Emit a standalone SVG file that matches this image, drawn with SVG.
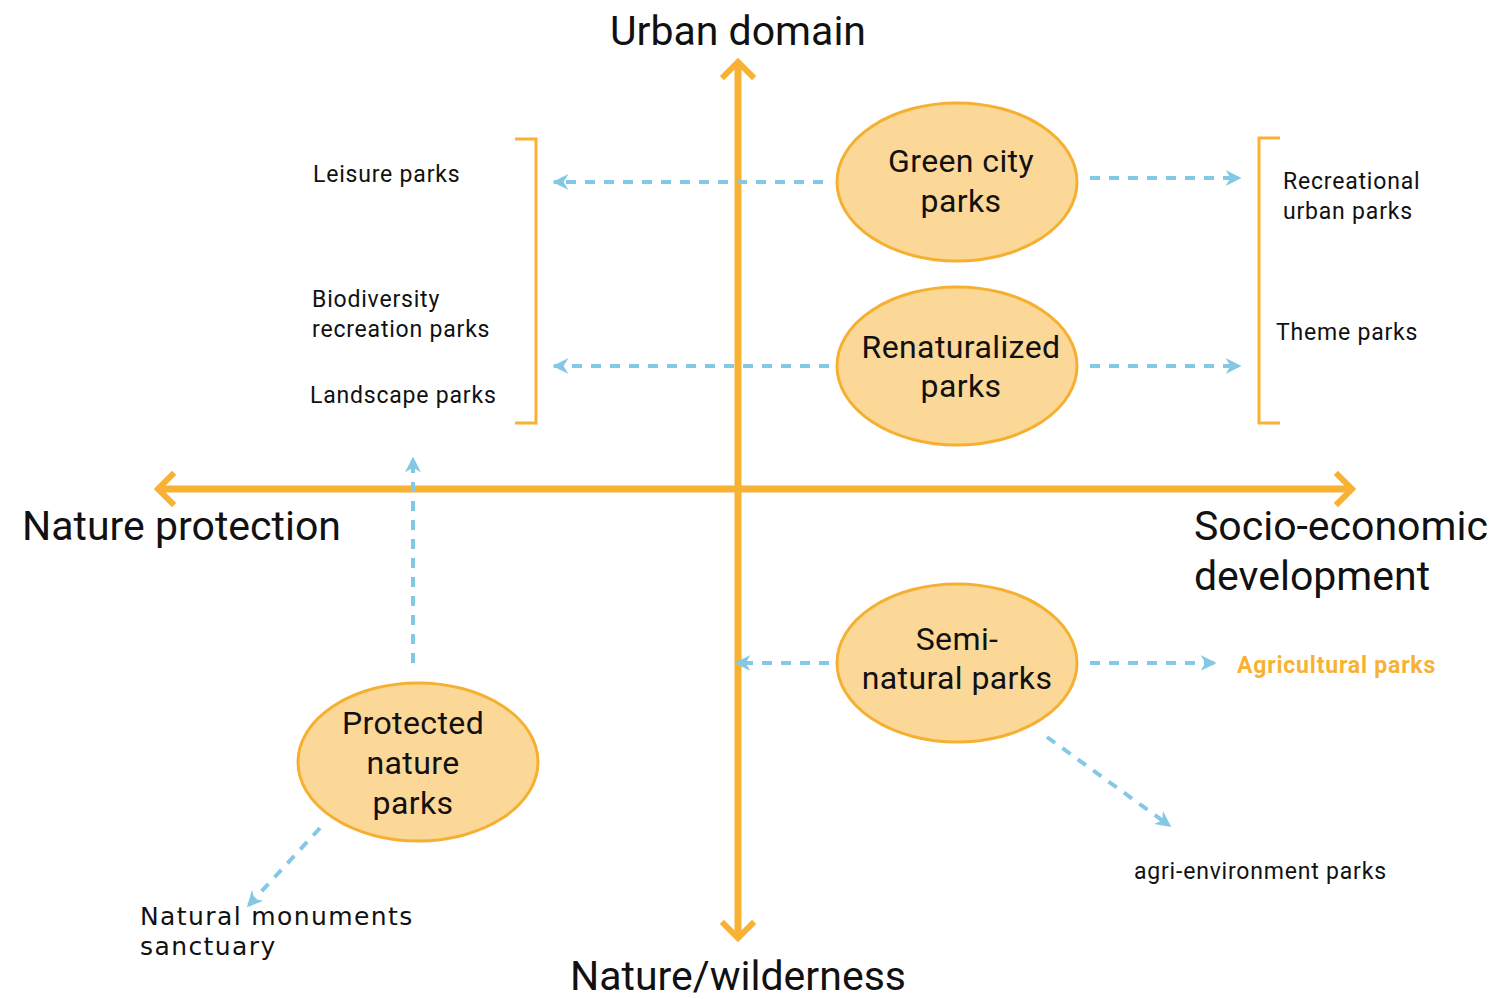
<svg xmlns="http://www.w3.org/2000/svg" width="1497" height="999" viewBox="0 0 1497 999">
  <style>
    .axis { stroke: #F7B234; stroke-width: 7; fill: none; stroke-linecap: butt; }
    .head { stroke: #F7B234; stroke-width: 6; fill: none; stroke-linecap: square; stroke-linejoin: miter; }
    .bracket { stroke: #F7B234; stroke-width: 3; fill: none; }
    .link { stroke: #85C8E6; stroke-width: 4; fill: none; stroke-dasharray: 10 9; }
    .node ellipse { fill: #FCD898; stroke: #F5B031; stroke-width: 3; }
    .node text { font-family: Roboto, "Noto Sans", sans-serif; font-size: 32px; letter-spacing: 0.4px; fill: #111; text-anchor: middle; }
    .axlabel { font-family: Roboto, "Noto Sans", sans-serif; font-size: 41px; fill: #111; }
    .lbl { font-family: Roboto, "Noto Sans", sans-serif; font-size: 23px; letter-spacing: 0.8px; fill: #111; }
    .lbl2 { font-family: "DejaVu Sans", sans-serif; font-size: 25px; letter-spacing: 1.4px; fill: #111; }
    .accent { font-family: Roboto, "Noto Sans", sans-serif; font-size: 23px; letter-spacing: 0.8px; font-weight: bold; fill: #F7B234; }
  </style>
  <defs>
    <marker id="chev" viewBox="0 0 10 10" refX="9" refY="5" markerWidth="4" markerHeight="4" orient="auto" markerUnits="strokeWidth">
      <path d="M0,0 L10,5 L0,10 L3,5 Z" fill="#85C8E6"/>
    </marker>
  </defs>

  <g id="axes">
    <line class="axis" x1="738" y1="64" x2="738" y2="936"/>
    <polyline class="head" points="724,76 738,62 752,76"/>
    <polyline class="head" points="724,924 738,938 752,924"/>
    <line class="axis" x1="160" y1="489" x2="1350" y2="489"/>
    <polyline class="head" points="172,475 158,489 172,503"/>
    <polyline class="head" points="1338,475 1352,489 1338,503"/>
  </g>

  <g id="brackets">
    <polyline class="bracket" points="515,139 536,139 536,423 515,423"/>
    <polyline class="bracket" points="1280,138 1259,138 1259,423 1280,423"/>
  </g>

  <g id="connectors">
    <line class="link" x1="823" y1="182" x2="554" y2="182" marker-end="url(#chev)"/>
    <line class="link" x1="1090" y1="178" x2="1240" y2="178" marker-end="url(#chev)"/>
    <line class="link" x1="829" y1="366" x2="554" y2="366" marker-end="url(#chev)"/>
    <line class="link" x1="1090" y1="366" x2="1240" y2="366" marker-end="url(#chev)"/>
    <line class="link" x1="413" y1="663" x2="413" y2="458" marker-end="url(#chev)"/>
    <line class="link" x1="829" y1="663" x2="736" y2="663" marker-end="url(#chev)"/>
    <line class="link" x1="1090" y1="663" x2="1215" y2="663" marker-end="url(#chev)"/>
    <line class="link" x1="1047" y1="737" x2="1170" y2="826" marker-end="url(#chev)"/>
    <line class="link" x1="320" y1="828" x2="248" y2="906" marker-end="url(#chev)"/>
  </g>

  <g id="green-city-parks" class="node">
    <ellipse cx="957" cy="182" rx="120" ry="79"/>
    <text x="961" y="172">Green city</text>
    <text x="961" y="212">parks</text>
  </g>
  <g id="renaturalized-parks" class="node">
    <ellipse cx="957" cy="366" rx="120" ry="79"/>
    <text x="961" y="358">Renaturalized</text>
    <text x="961" y="397">parks</text>
  </g>
  <g id="semi-natural-parks" class="node">
    <ellipse cx="957" cy="663" rx="120" ry="79"/>
    <text x="957" y="650">Semi-</text>
    <text x="957" y="689">natural parks</text>
  </g>
  <g id="protected-nature-parks" class="node">
    <ellipse cx="418" cy="762" rx="120" ry="79"/>
    <text x="413" y="734">Protected</text>
    <text x="413" y="774">nature</text>
    <text x="413" y="814">parks</text>
  </g>

  <g id="axis-labels">
    <text class="axlabel" x="738" y="45" text-anchor="middle">Urban domain</text>
    <text class="axlabel" x="22" y="540">Nature protection</text>
    <text class="axlabel" x="1194" y="540">Socio-economic</text>
    <text class="axlabel" x="1194" y="590">development</text>
    <text class="axlabel" x="738" y="990" text-anchor="middle">Nature/wilderness</text>
  </g>

  <g id="leisure-parks"><text class="lbl" x="313" y="182">Leisure parks</text></g>
  <g id="biodiversity-parks">
    <text class="lbl" x="312" y="307">Biodiversity</text>
    <text class="lbl" x="312" y="337">recreation parks</text>
  </g>
  <g id="landscape-parks"><text class="lbl" x="310" y="403">Landscape parks</text></g>
  <g id="recreational-parks">
    <text class="lbl" x="1283" y="189">Recreational</text>
    <text class="lbl" x="1283" y="219">urban parks</text>
  </g>
  <g id="theme-parks"><text class="lbl" x="1276" y="340">Theme parks</text></g>
  <g id="agricultural-parks"><text class="accent" x="1237" y="673">Agricultural parks</text></g>
  <g id="agri-environment-parks"><text class="lbl" x="1134" y="879">agri-environment parks</text></g>
  <g id="natural-monuments">
    <text class="lbl2" x="140" y="925">Natural monuments</text>
    <text class="lbl2" x="140" y="955">sanctuary</text>
  </g>
</svg>
